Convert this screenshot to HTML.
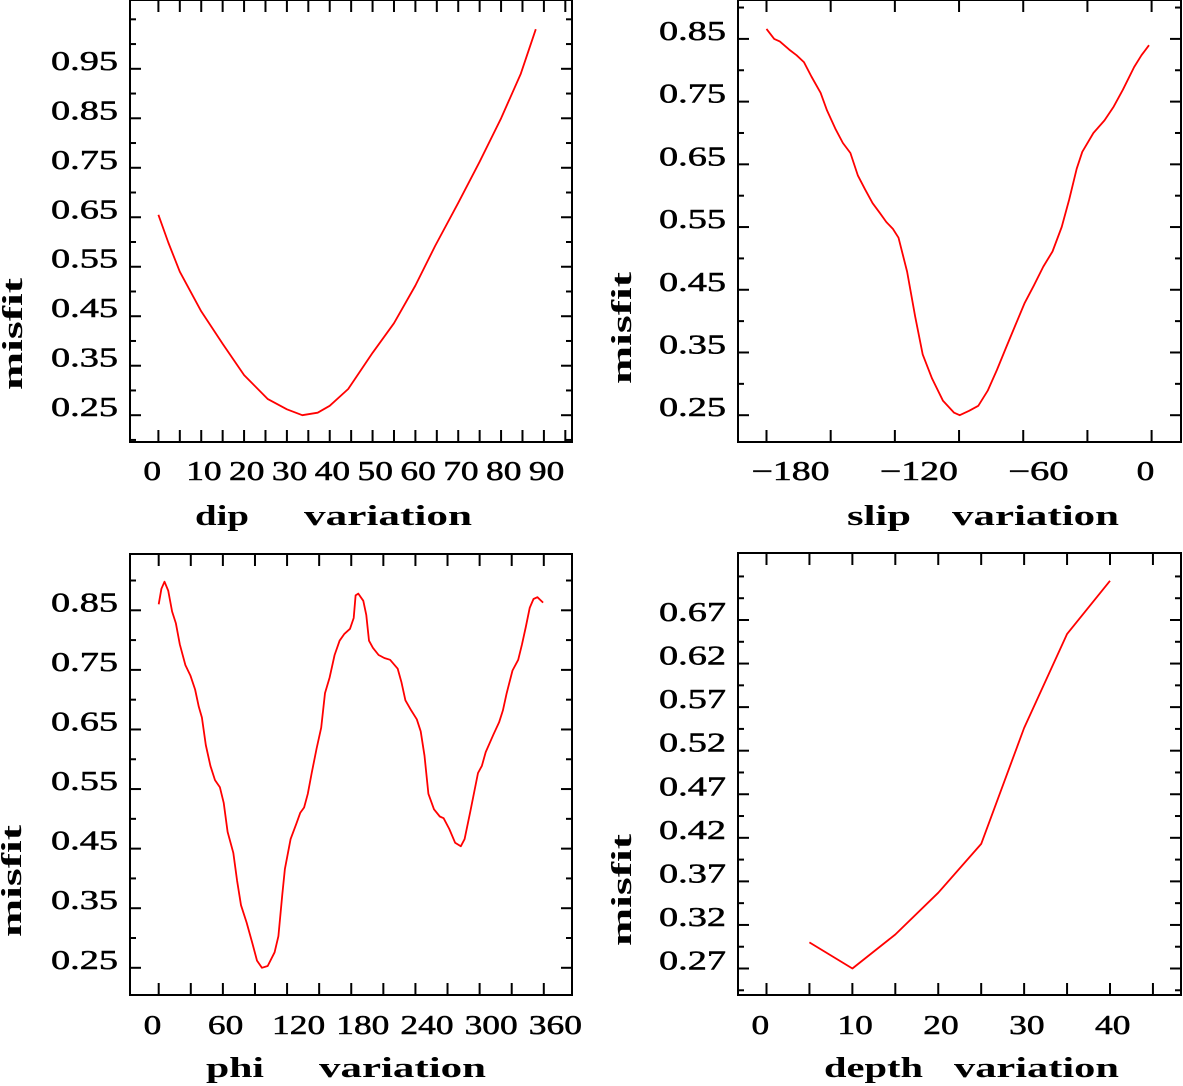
<!DOCTYPE html>
<html><head><meta charset="utf-8"><style>
html,body{margin:0;padding:0;background:#fff;}
svg{display:block;}
text{font-family:"Liberation Serif",serif;fill:#000;}
</style></head><body>
<svg id="fig" width="1183" height="1086" viewBox="0 0 1183 1086" xmlns="http://www.w3.org/2000/svg"></svg>
<script>
// ---- dip panel data ----
const dipX=[0,2.3,5,10,15,20,25.5,30,33.6,37.2,40,44.3,50,55,60,64.6,70,75,80,84.6,88.1];
const dipY=[0.655,0.599,0.540,0.460,0.394,0.331,0.283,0.262,0.250,0.255,0.269,0.303,0.376,0.436,0.512,0.592,0.679,0.762,0.850,0.940,1.030];
const dipXTicks=[0,10,20,30,40,50,60,70,80,90];
const dipYTicks=[0.25,0.35,0.45,0.55,0.65,0.75,0.85,0.95];
const dipYLabels=["0.25","0.35","0.45","0.55","0.65","0.75","0.85","0.95"];
// ---- slip panel data ----
const slipX=[-180,-176.4,-173.8,-169.4,-166,-162.5,-159,-154.7,-151.7,-147.7,-144.3,-140.8,-137.3,-133.9,-130.4,-126.9,-124,-120.9,-118.3,-114.3,-110.5,-107,-102.7,-97.5,-92.3,-89.7,-85.3,-81,-76.6,-72.3,-68,-63.6,-59.3,-55,-50.6,-46.3,-42,-38.5,-35,-32.4,-27.2,-22,-17.7,-13.4,-8.2,-4.7,-1.2];
const slipY=[0.866,0.850,0.846,0.833,0.824,0.813,0.790,0.764,0.736,0.706,0.684,0.668,0.632,0.610,0.588,0.572,0.558,0.547,0.533,0.479,0.407,0.347,0.309,0.273,0.254,0.250,0.257,0.265,0.289,0.322,0.358,0.394,0.429,0.457,0.487,0.511,0.550,0.594,0.643,0.670,0.700,0.720,0.742,0.769,0.805,0.824,0.840];
const slipXTicks=[-180,-120,-60,0];
const slipXLabels=["\u2212180","\u2212120","\u221260","0"];
const slipYTicks=[0.25,0.35,0.45,0.55,0.65,0.75,0.85];
const slipYLabels=["0.25","0.35","0.45","0.55","0.65","0.75","0.85"];
// ---- phi panel data ----
const phiX=[0,2.5,5.4,8.9,12.5,16.1,19.7,25,29.7,34,37.5,40.4,44,48.3,52.6,57.2,60.8,64.4,69.7,73.3,76.9,82.2,87.6,91.9,96.5,101.9,108.3,111.9,115.5,118,123.3,128.7,132.3,135.9,139.4,143,147.6,151.9,155.5,159.8,164.4,169.1,173.4,178.8,182.3,184.1,186.6,191.3,194.1,196.6,200.2,205.6,210.9,216.3,223.4,227,230.6,236,241.3,244.9,248.5,252.1,257.4,262.8,266.3,271.7,277.1,282.4,286,291.4,298.5,302.1,305.7,312.8,318.2,321.8,325.3,330.7,336.1,339.6,343.2,346.8,350.4,354,359.3];
const phiY=[0.860,0.886,0.898,0.883,0.848,0.828,0.793,0.758,0.740,0.717,0.688,0.670,0.624,0.589,0.565,0.553,0.527,0.478,0.443,0.396,0.355,0.326,0.291,0.262,0.250,0.253,0.276,0.303,0.373,0.416,0.466,0.492,0.510,0.519,0.542,0.577,0.618,0.653,0.711,0.737,0.775,0.799,0.810,0.819,0.837,0.875,0.878,0.866,0.842,0.799,0.787,0.775,0.770,0.767,0.752,0.729,0.699,0.682,0.667,0.647,0.606,0.542,0.516,0.504,0.501,0.483,0.460,0.454,0.466,0.513,0.577,0.589,0.612,0.641,0.662,0.682,0.711,0.749,0.767,0.793,0.822,0.854,0.869,0.872,0.863];
const phiXTicks=[0,60,120,180,240,300,360];
const phiYTicks=[0.25,0.35,0.45,0.55,0.65,0.75,0.85];
const phiYLabels=["0.25","0.35","0.45","0.55","0.65","0.75","0.85"];
// ---- depth panel data ----
const depthX=[5,10,15,20,25,30,35,40];
const depthY=[0.300,0.270,0.309,0.357,0.413,0.546,0.654,0.715];
const depthXTicks=[0,10,20,30,40];
const depthYTicks=[0.27,0.32,0.37,0.42,0.47,0.52,0.57,0.62,0.67];
const depthYLabels=["0.27","0.32","0.37","0.42","0.47","0.52","0.57","0.62","0.67"];

const NS="http://www.w3.org/2000/svg";
const svg=document.getElementById('fig');
function mk(tag,attrs,parent){const e=document.createElementNS(NS,tag);for(const k in attrs)e.setAttribute(k,attrs[k]);(parent||svg).appendChild(e);return e;}
function lw(s){let w=0;for(const c of s){w+=(c==='\u2212')?25:(c==='.')?12:17.7;}return w;}

function panel(cfg){
  const g=mk('g',{});
  
  
  const sx=v=>cfg.px0+(v-cfg.vx0)*(cfg.px1-cfg.px0)/(cfg.vx1-cfg.vx0);
  const sy=v=>cfg.py0+(v-cfg.vy0)*(cfg.py1-cfg.py0)/(cfg.vy1-cfg.vy0);
  const f=cfg.frame;
  const fr=mk('rect',{x:f.L,y:f.T,width:f.R-f.L,height:f.B-f.T,fill:'none',stroke:'#000','stroke-width':2},g);
  
  
  // x ticks (including minor)
  const xt=[];
  for(let v=cfg.xMinorStart;v<=cfg.xMinorEnd+1e-9;v+=cfg.xMinorStep)xt.push(v);
  xt.forEach(v=>{const x=sx(v);if(x<=f.L+1||x>=f.R-1)return;
    mk('line',{x1:x,y1:f.B,x2:x,y2:f.B-12,stroke:'#000','stroke-width':2},g);
    mk('line',{x1:x,y1:f.T,x2:x,y2:f.T+12,stroke:'#000','stroke-width':2},g);});
  // y ticks
  const yt=[];
  for(let v=cfg.yMinorStart;v<=cfg.yMinorEnd+1e-9;v+=cfg.yMinorStep)yt.push(v);
  yt.forEach(v=>{const y=sy(v);if(y<=f.T+2||y>=f.B-2)return;
    const major=cfg.yTicks.some(t=>Math.abs(t-v)<1e-6);const L=major?11:6;
    mk('line',{x1:f.L,y1:y,x2:f.L+L,y2:y,stroke:'#000','stroke-width':2},g);
    mk('line',{x1:f.R,y1:y,x2:f.R-L,y2:y,stroke:'#000','stroke-width':2},g);});
  // y labels
  cfg.yTicks.forEach((v,i)=>{const t=mk('text',{x:cfg.yLabelRight,y:sy(v)+1,'text-anchor':'end','font-size':27,stroke:'#000','stroke-width':0.5,textLength:67,lengthAdjust:'spacingAndGlyphs'},g);
    t.textContent=cfg.yLabels[i];
    
    });
  // x labels
  cfg.xTicks.forEach((v,i)=>{const s=cfg.xLabels[i];const t=mk('text',{x:sx(v)-15,y:cfg.xLabelBase,'font-size':27,stroke:'#000','stroke-width':0.5,textLength:lw(s),lengthAdjust:'spacingAndGlyphs'},g);
    t.textContent=s;
    
    });
  // x title (two words)
  cfg.xTitle.forEach(w=>{const t=mk('text',{x:w[1],y:cfg.titleBase,'font-size':28,'font-weight':'bold',textLength:w[2]-w[1],lengthAdjust:'spacingAndGlyphs'},g);
    t.textContent=w[0];
    
    });
  // y title
  const yc=cfg.yTitle;
  const yt2=mk('text',{x:0,y:0,'font-size':28,'font-weight':'bold','text-anchor':'middle',textLength:yc.len,lengthAdjust:'spacingAndGlyphs',transform:`translate(${yc.x},${yc.y}) rotate(-90)`},g);
  yt2.textContent='misfit';
  
  
  // series
  const pts=cfg.xs.map((v,i)=>sx(v).toFixed(1)+','+sy(cfg.ys[i]).toFixed(1)).join(' ');
  const pl=mk('polyline',{points:pts,fill:'none',stroke:'#ff0000','stroke-width':1.8,'stroke-linejoin':'round'},g);
  
  
}

panel({name:'dip-panel',frame:{L:130,R:572,T:0,B:442},px0:158.4,px1:543.9,vx0:0,vx1:90,py0:415.2,py1:68.8,vy0:0.25,vy1:0.95,
  xMinorStart:0,xMinorEnd:95,xMinorStep:5,yMinorStart:0.2,yMinorEnd:1.1,yMinorStep:0.05,
  xTicks:dipXTicks,xLabels:dipXTicks.map(String),yTicks:dipYTicks,yLabels:dipYLabels,yLabelRight:118,xLabelBase:480,
  titleBase:525,xTitle:[['dip',195,249],['variation',304,472]],yTitle:{x:22,y:334,len:112},xs:dipX,ys:dipY});
panel({name:'slip-panel',frame:{L:738,R:1181,T:0,B:442},px0:766.5,px1:1151.6,vx0:-180,vx1:0,py0:415.2,py1:38.9,vy0:0.25,vy1:0.85,
  xMinorStart:-180,xMinorEnd:0,xMinorStep:30,yMinorStart:0.2,yMinorEnd:0.95,yMinorStep:0.05,
  xTicks:slipXTicks,xLabels:slipXLabels,yTicks:slipYTicks,yLabels:slipYLabels,yLabelRight:726,xLabelBase:480,
  titleBase:525,xTitle:[['slip',847,911],['variation',952,1119]],yTitle:{x:631,y:328,len:112},xs:slipX,ys:slipY});
panel({name:'phi-panel',frame:{L:130,R:572,T:554,B:995},px0:158.7,px1:543.8,vx0:0,vx1:360,py0:967.8,py1:610.3,vy0:0.25,vy1:0.85,
  xMinorStart:0,xMinorEnd:360,xMinorStep:30,yMinorStart:0.2,yMinorEnd:0.95,yMinorStep:0.05,
  xTicks:phiXTicks,xLabels:phiXTicks.map(String),yTicks:phiYTicks,yLabels:phiYLabels,yLabelRight:118,xLabelBase:1034,
  titleBase:1077,xTitle:[['phi',206,264],['variation',319,486]],yTitle:{x:21,y:881,len:112},xs:phiX,ys:phiY});
panel({name:'depth-panel',frame:{L:738,R:1181,T:553,B:995},px0:766.5,px1:1110,vx0:0,vx1:40,py0:968.5,py1:620,vy0:0.27,vy1:0.67,
  xMinorStart:0,xMinorEnd:45,xMinorStep:5,yMinorStart:0.245,yMinorEnd:0.72,yMinorStep:0.025,
  xTicks:depthXTicks,xLabels:depthXTicks.map(String),yTicks:depthYTicks,yLabels:depthYLabels,yLabelRight:726,xLabelBase:1034,
  titleBase:1077,xTitle:[['depth',824,923],['variation',954,1119]],yTitle:{x:631,y:890,len:112},xs:depthX,ys:depthY});
</script>
</body></html>
